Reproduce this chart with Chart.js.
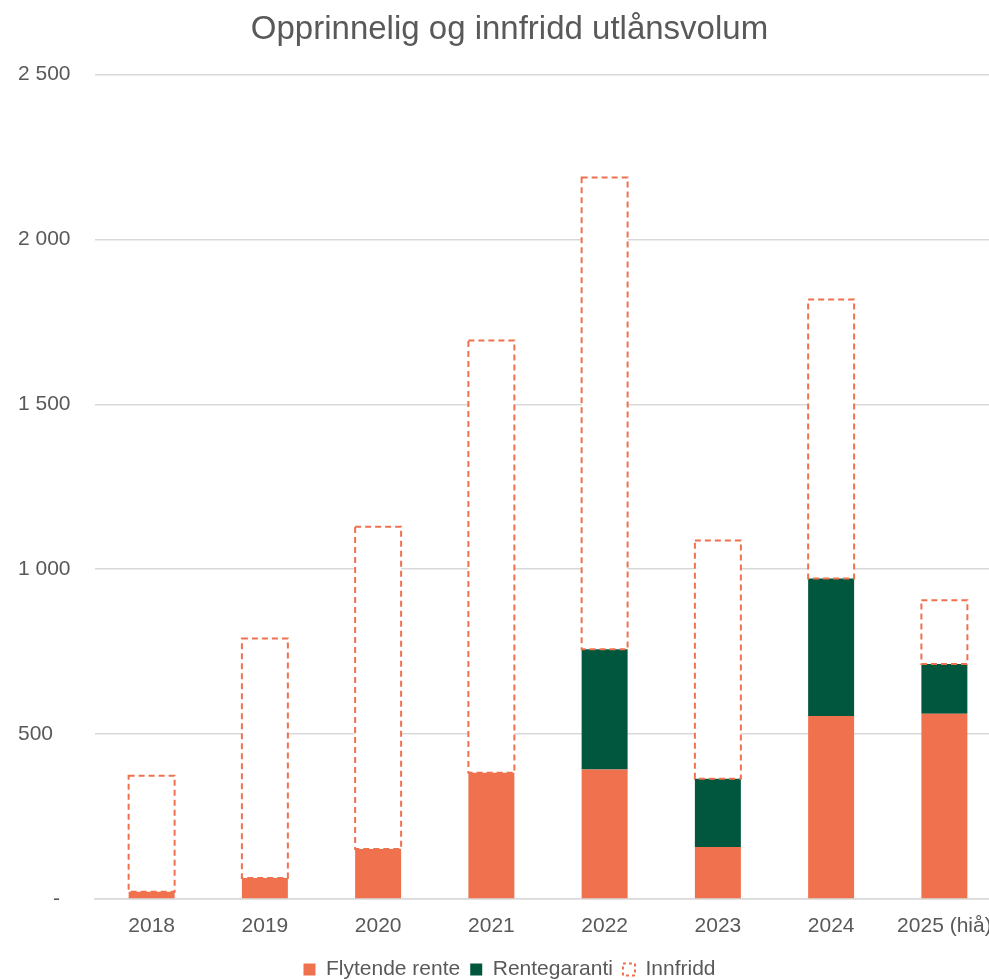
<!DOCTYPE html>
<html>
<head>
<meta charset="utf-8">
<script src="https://cdn.jsdelivr.net/npm/chart.js@4"></script>
<style>
  html, body { margin: 0; background: #fff; overflow: hidden; }
  /* the plot runs a little past the right edge in the original */
  #wrap { width: 1001px; height: 980px; }
</style>
</head>
<body>
<div id="wrap"><canvas id="chart"></canvas></div>
<script>
// data
const years = ['2018', '2019', '2020', '2021', '2022', '2023', '2024', '2025 (hiå)']
const flytendeRente = [22, 64, 152, 383, 393, 158, 555, 562]
const rentegaranti = [0, 0, 0, 0, 364, 207, 417, 151]
const innfridd = [352, 726, 977, 1311, 1431, 722, 846, 193]
const yTicks = [0, 500, 1000, 1500, 2000, 2500]

const orange = '#F0714D'
const green = '#00573D'
const textCol = '#595959'
const font = 'Liberation Sans, Arial, sans-serif'

Chart.defaults.font.family = font
Chart.defaults.color = textCol

function fmt(v) {
  if (v === 0) return '      -'
  return String(v).replace(/\B(?=(\d{3})+(?!\d))/g, ' ')
}

// bars in chart.js can't stroke a dashed border, so draw it on top
const dashedBorder = {
  id: 'dashedBorder',
  afterDatasetsDraw(chart) {
    const meta = chart.getDatasetMeta(2)
    const ctx = chart.ctx
    ctx.save()
    ctx.strokeStyle = orange
    ctx.lineWidth = 2
    ctx.setLineDash([6, 4])
    meta.data.forEach(bar => {
      const p = bar.getProps(['x', 'y', 'base', 'width'], true)
      const left = p.x - p.width / 2
      ctx.strokeRect(left, p.y, p.width, p.base - p.y)
    })
    ctx.restore()
  }
}

new Chart(document.getElementById('chart'), {
  type: 'bar',
  data: {
    labels: years,
    datasets: [
      { label: 'Flytende rente', data: flytendeRente, backgroundColor: orange, borderWidth: 0 },
      { label: 'Rentegaranti', data: rentegaranti, backgroundColor: green, borderWidth: 0 },
      { label: 'Innfridd', data: innfridd, backgroundColor: '#ffffff', borderWidth: 0 }
    ]
  },
  options: {
    responsive: true,
    maintainAspectRatio: false,
    animation: false,
    barPercentage: 0.406,
    categoryPercentage: 1,
    layout: { padding: { left: 18, right: 0, top: 0, bottom: -10 } },
    plugins: {
      title: {
        display: true,
        text: 'Opprinnelig og innfridd utlånsvolum',
        color: textCol,
        font: { size: 33, weight: 'normal' },
        padding: { top: 10, bottom: 25 }
      },
      legend: {
        position: 'bottom',
        labels: {
          boxWidth: 12,
          boxHeight: 12,
          padding: 10,
          font: { size: 21 },
          color: textCol,
          generateLabels(chart) {
            const items = Chart.defaults.plugins.legend.labels.generateLabels(chart)
            items.forEach(it => {
              if (it.datasetIndex === 2) {
                it.fillStyle = '#ffffff'
                it.strokeStyle = orange
                it.lineWidth = 2
                it.lineDash = [3, 3]
              }
            })
            return items
          }
        }
      },
      tooltip: { enabled: false }
    },
    scales: {
      x: {
        stacked: true,
        grid: { display: false, drawTicks: false },
        border: { display: true, color: '#D9D9D9', width: 1.5 },
        ticks: { font: { size: 21 }, color: textCol, padding: 15, maxRotation: 0, autoSkip: false },
        afterFit(scale) {
          scale.height = 50
          scale.paddingLeft = 0
          scale.paddingRight = 0
        }
      },
      y: {
        stacked: true,
        min: 0,
        max: 2500,
        afterBuildTicks(scale) {
          scale.ticks = yTicks.map(v => ({ value: v }))
        },
        grid: { color: '#D9D9D9', lineWidth: 1.5, drawTicks: false },
        border: { display: false },
        ticks: {
          font: { size: 21 },
          color: textCol,
          padding: 25,
          crossAlign: 'far',
          callback: v => fmt(v)
        },
        afterFit(scale) {
          scale.width = 77
        }
      }
    }
  },
  plugins: [dashedBorder]
})
</script>
</body>
</html>
